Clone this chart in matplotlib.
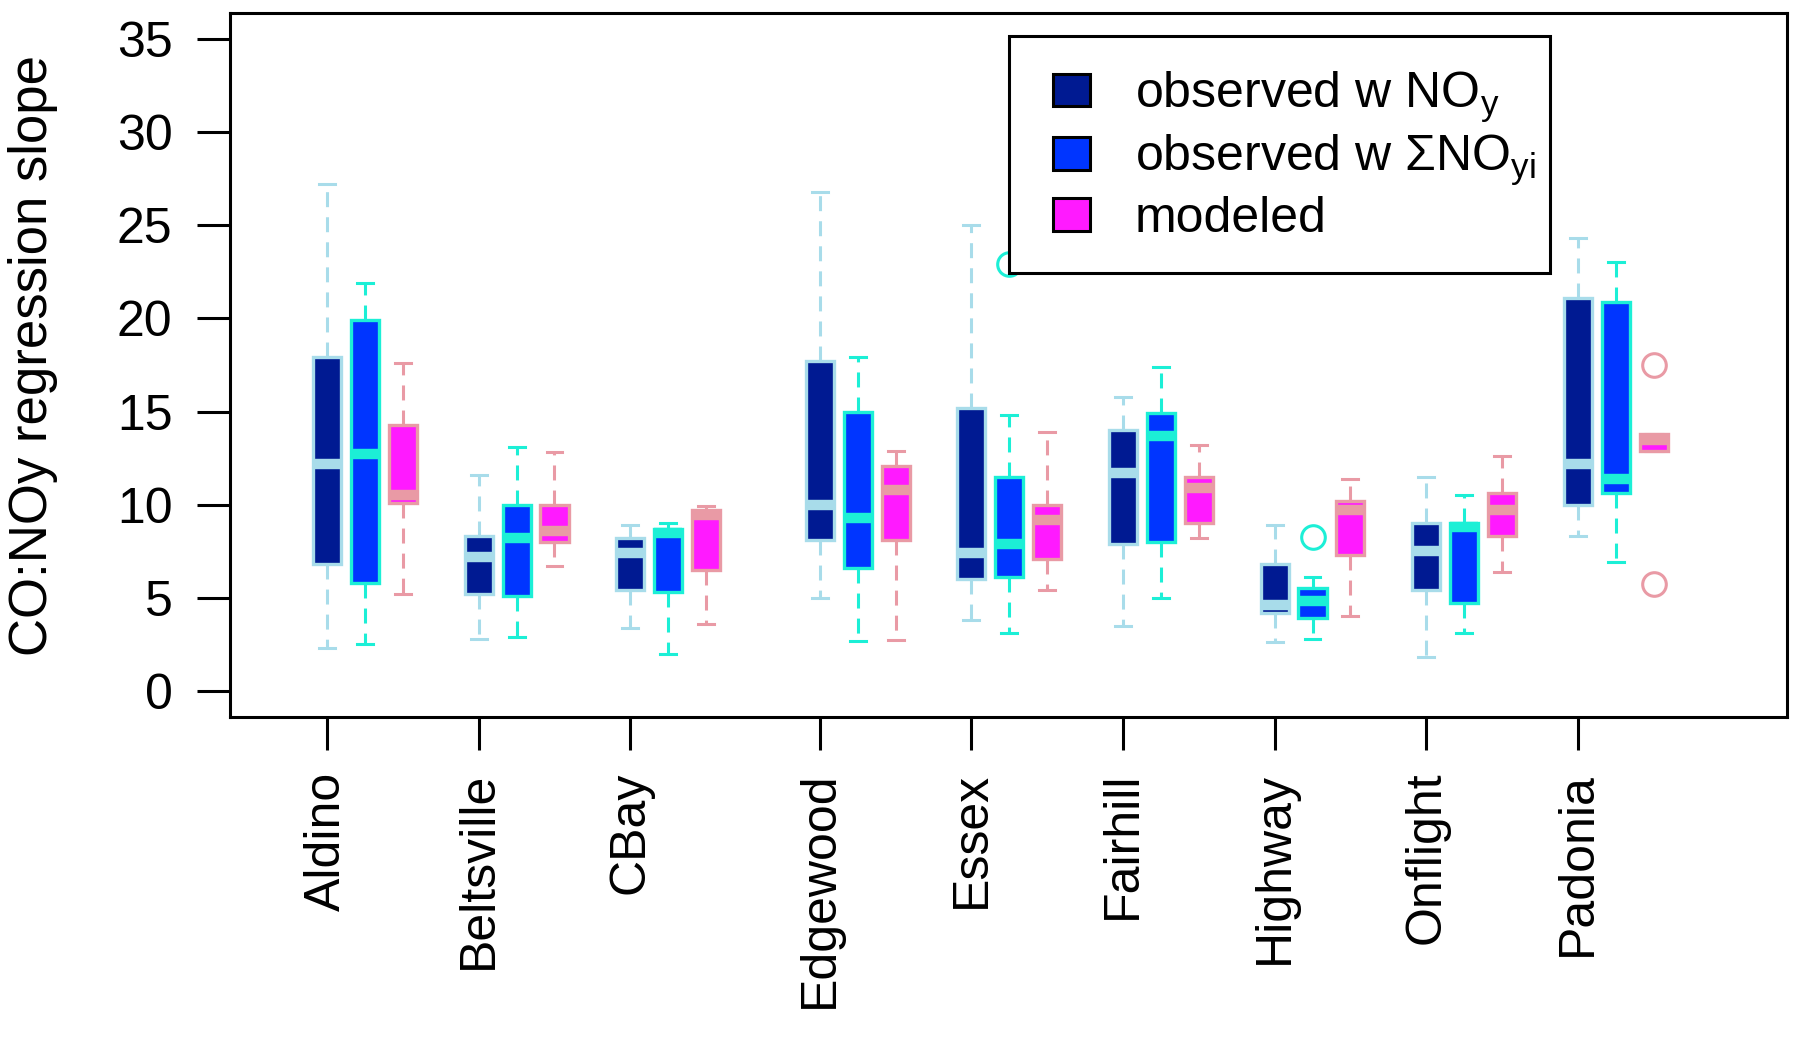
import matplotlib
matplotlib.use("Agg")
import matplotlib.pyplot as plt
from matplotlib.patches import Patch, Rectangle

plt.rcParams['font.family'] = ['Liberation Sans', 'DejaVu Sans']
plt.rcParams['mathtext.fontset'] = 'custom'
plt.rcParams['mathtext.rm'] = 'Liberation Sans'
plt.rcParams['mathtext.it'] = 'Liberation Sans'
plt.rcParams['mathtext.default'] = 'regular'

# data
sites = ["Aldino", "Beltsville", "CBay", "Edgewood", "Essex",
         "Fairhill", "Highway", "Onflight", "Padonia"]

noy_lo  = [2.3, 2.8, 3.4, 5.0, 3.8, 3.5, 2.6, 1.8, 8.3]
noy_q1  = [6.8, 5.2, 5.4, 8.1, 6.0, 7.9, 4.2, 5.4, 10.0]
noy_med = [12.2, 7.2, 7.4, 10.0, 7.4, 11.7, 4.6, 7.5, 12.2]
noy_q3  = [17.9, 8.3, 8.2, 17.7, 15.2, 14.0, 6.8, 9.0, 21.1]
noy_hi  = [27.2, 11.6, 8.9, 26.8, 25.0, 15.8, 8.9, 11.5, 24.3]
noy_out = [[], [], [], [], [], [], [], [], []]

sum_lo  = [2.5, 2.9, 2.0, 2.7, 3.1, 5.0, 2.8, 3.1, 6.9]
sum_q1  = [5.8, 5.1, 5.3, 6.6, 6.1, 8.0, 3.9, 4.7, 10.6]
sum_med = [12.7, 8.2, 8.5, 9.3, 7.9, 13.7, 4.8, 8.8, 11.4]
sum_q3  = [19.9, 10.0, 8.7, 15.0, 11.5, 14.9, 5.5, 9.0, 20.9]
sum_hi  = [21.9, 13.1, 9.0, 17.9, 14.8, 17.4, 6.1, 10.5, 23.0]
sum_out = [[], [], [], [], [22.9], [], [8.25], [], []]

mod_lo  = [5.2, 6.7, 3.6, 2.75, 5.4, 8.2, 4.0, 6.4, 12.9]
mod_q1  = [10.1, 8.0, 6.5, 8.1, 7.1, 9.0, 7.3, 8.3, 12.9]
mod_med = [10.5, 8.6, 9.45, 10.8, 9.2, 10.9, 9.7, 9.7, 13.45]
mod_q3  = [14.3, 10.0, 9.7, 12.1, 10.0, 11.5, 10.2, 10.6, 13.8]
mod_hi  = [17.6, 12.8, 9.9, 12.9, 13.9, 13.2, 11.4, 12.6, 13.8]
mod_out = [[], [], [], [], [], [], [], [], [17.5, 5.75]]

# layout
site_pos = [1, 5, 9, 14, 18, 22, 26, 30, 34]
FS = 36

series = [
    # (lo, q1, med, q3, hi, outliers, offset, fill, edge)
    (noy_lo, noy_q1, noy_med, noy_q3, noy_hi, noy_out, 0, "#001A92", "#A8DCEA"),
    (sum_lo, sum_q1, sum_med, sum_q3, sum_hi, sum_out, 1, "#0035FF", "#1CEFD6"),
    (mod_lo, mod_q1, mod_med, mod_q3, mod_hi, mod_out, 2, "#FF1AFF", "#E99AA5"),
]

fig = plt.figure(figsize=(18, 10.4), dpi=100)
ax = fig.add_axes([0.1278, 0.3106, 0.865, 0.677])

for lo, q1, med, q3, hi, out, off, fill, edge in series:
    stats = [dict(whislo=lo[i], q1=q1[i], med=med[i], q3=q3[i], whishi=hi[i],
                  fliers=out[i]) for i in range(len(sites))]
    ax.bxp(stats, positions=[p + off for p in site_pos], widths=0.74,
           capwidths=0.42, patch_artist=True, showfliers=True,
           boxprops=dict(facecolor=fill, edgecolor=edge, linewidth=2.4),
           medianprops=dict(color=edge, linewidth=7.5, solid_capstyle='butt'),
           whiskerprops=dict(color=edge, linewidth=2.2, linestyle=(0, (4.9, 3.3))),
           capprops=dict(color=edge, linewidth=2.2),
           flierprops=dict(marker='o', markerfacecolor='none', markeredgecolor=edge,
                           markersize=17, markeredgewidth=2.2))

ax.set_xlim(-1.56, 39.52)
ax.set_ylim(-1.4, 36.4)
ax.set_yticks(range(0, 36, 5))
ax.set_xticks(site_pos)
ax.set_xticklabels(sites, rotation=90)

ax.tick_params(axis='both', labelsize=FS, length=23.5, width=2.2, direction='out')
ax.tick_params(axis='y', pad=18)
ax.tick_params(axis='x', pad=16)
for s in ax.spines.values():
    s.set_linewidth(2.2)

ax.set_ylabel("CO:NOy regression slope", fontsize=38, labelpad=42, y=0.514)

# legend box drawn as a plain rectangle, entries placed inside it
ax.add_patch(Rectangle((0.5003, 0.6307), 0.8478 - 0.5003, 0.9673 - 0.6307,
                       transform=ax.transAxes, facecolor='white', edgecolor='black',
                       linewidth=2.2, zorder=4, clip_on=False))
handles = [Patch(facecolor=f, edgecolor='black', linewidth=2.2) for *_, f, e in series]
labels = ["observed w NO$_{y}$", "observed w \u03a3NO$_{yi}$", "modeled"]
leg = ax.legend(handles, labels, loc='center left', bbox_to_anchor=(0.5286, 0.797),
                borderaxespad=0, frameon=False, fontsize=FS,
                handlelength=0.73, handleheight=0.63, handletextpad=0.9,
                labelspacing=0.16, borderpad=0)
leg.set_zorder(5)

fig.savefig("out.png", dpi=100)
